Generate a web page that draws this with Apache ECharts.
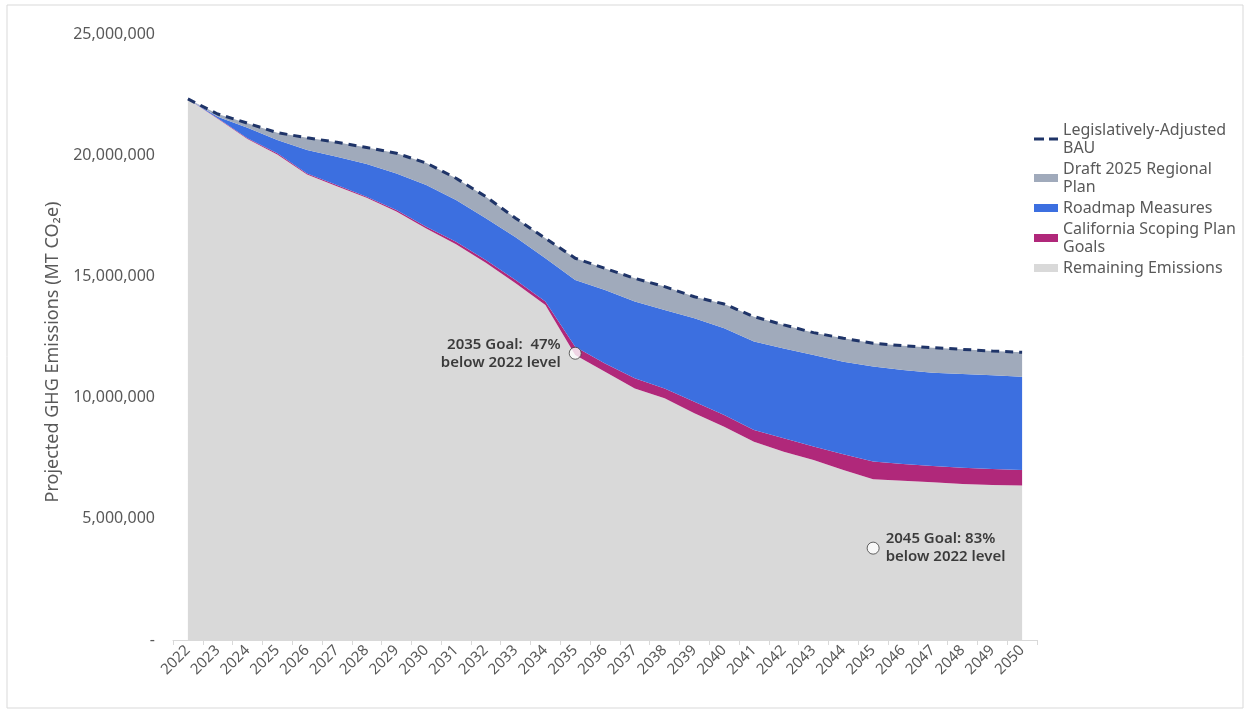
<!DOCTYPE html>
<html>
<head>
<meta charset="utf-8">
<script src="https://cdn.jsdelivr.net/npm/echarts@6/dist/echarts.min.js"></script>
<style>
  html, body { margin: 0; padding: 0; background: #fff; }
  #chart { width: 1250px; height: 715px; }
</style>
</head>
<body>
<div id="chart"></div>
<script>
// years on the x axis
var years = ['2022', '2023', '2024', '2025', '2026', '2027', '2028', '2029', '2030', '2031',
  '2032', '2033', '2034', '2035', '2036', '2037', '2038', '2039', '2040', '2041',
  '2042', '2043', '2044', '2045', '2046', '2047', '2048', '2049', '2050'];

// stacked pieces (MT CO2e), bottom to top
var remaining = [22320000, 21500000, 20670000, 20030000, 19200000, 18720000, 18240000, 17680000, 16980000, 16330000,
  15560000, 14720000, 13820000, 11760000, 11070000, 10380000, 9970000, 9350000, 8800000, 8180000,
  7770000, 7430000, 7010000, 6630000, 6570000, 6510000, 6440000, 6390000, 6370000];
var scopingPlan = [0, 20000, 30000, 50000, 50000, 50000, 50000, 60000, 70000, 100000,
  120000, 130000, 140000, 340000, 340000, 420000, 410000, 480000, 480000, 480000,
  550000, 550000, 650000, 730000, 690000, 670000, 670000, 660000, 640000];
var roadmap = [0, 70000, 430000, 550000, 960000, 1170000, 1350000, 1510000, 1720000, 1720000,
  1720000, 1770000, 1790000, 2750000, 3030000, 3160000, 3230000, 3440000, 3580000, 3650000,
  3710000, 3780000, 3820000, 3920000, 3880000, 3850000, 3860000, 3870000, 3850000];
var regionalPlan = [0, 110000, 190000, 300000, 510000, 590000, 680000, 830000, 910000, 900000,
  890000, 780000, 820000, 900000, 890000, 960000, 970000, 890000, 1000000, 1030000,
  970000, 920000, 970000, 960000, 1000000, 1030000, 1020000, 1000000, 1010000];
// dashed top line
var bau = [22320000, 21700000, 21320000, 20930000, 20720000, 20530000, 20320000, 20080000, 19680000, 19050000,
  18290000, 17400000, 16570000, 15750000, 15330000, 14920000, 14580000, 14160000, 13860000, 13340000,
  13000000, 12680000, 12450000, 12240000, 12140000, 12060000, 11990000, 11920000, 11870000];

// goal markers
var goal2035 = ['2035', 11830000];
var goal2045 = ['2045', 3790000];

var legendText = {
  'Legislatively-Adjusted BAU': 'Legislatively-Adjusted\nBAU',
  'Draft 2025 Regional Plan': 'Draft 2025 Regional\nPlan',
  'Roadmap Measures': 'Roadmap Measures',
  'California Scoping Plan Goals': 'California Scoping Plan\nGoals',
  'Remaining Emissions': 'Remaining Emissions'
};

var font = 'Noto Sans';
var grey = '#595959';

function areaSeries (name, data, color) {
  return {
    name: name,
    type: 'line',
    stack: 'total',
    data: data,
    symbol: 'none',
    smooth: false,
    lineStyle: { width: 0 },
    itemStyle: { color: color },
    areaStyle: { color: color, opacity: 1 },
    emphasis: { disabled: true }
  };
}

var chart = echarts.init(document.getElementById('chart'));
chart.setOption({
  animation: false,
  textStyle: { fontFamily: font },
  graphic: [{
    type: 'rect',
    shape: { x: 7, y: 5, width: 1236, height: 703 },
    style: { fill: 'none', stroke: '#d9d9d9', lineWidth: 1 },
    silent: true
  }],
  grid: { left: 173, right: 213, top: 34, bottom: 75 },
  legend: {
    orient: 'vertical',
    left: 1029,
    top: 116,
    itemWidth: 24,
    itemHeight: 8,
    itemGap: 3,
    formatter: function (name) { return legendText[name] || name; },
    textStyle: { color: grey, fontSize: 16, lineHeight: 18, fontFamily: font },
    data: [
      {
        name: 'Legislatively-Adjusted BAU',
        icon: 'path://M0,0h10v3h-10z M15,0h9v3h-9z',
        itemStyle: { color: '#1f3468' }
      },
      { name: 'Draft 2025 Regional Plan', icon: 'rect' },
      { name: 'Roadmap Measures', icon: 'rect' },
      { name: 'California Scoping Plan Goals', icon: 'rect' },
      { name: 'Remaining Emissions', icon: 'rect' }
    ]
  },
  xAxis: {
    type: 'category',
    data: years,
    boundaryGap: true,
    axisLine: { lineStyle: { color: '#d9d9d9', width: 1 } },
    axisTick: { show: true, interval: 0, length: 5, lineStyle: { color: '#d9d9d9' } },
    axisLabel: { interval: 0, rotate: 45, color: grey, fontSize: 15, margin: 8 }
  },
  yAxis: {
    type: 'value',
    min: 0,
    max: 25000000,
    interval: 5000000,
    name: 'Projected GHG Emissions (MT CO₂e)',
    nameLocation: 'middle',
    nameGap: 106,
    nameTextStyle: { color: grey, fontSize: 18, fontFamily: font, padding: [0, 30, 0, 0] },
    axisLine: { show: false },
    axisTick: { show: false },
    splitLine: { show: false },
    axisLabel: {
      color: grey,
      fontSize: 16,
      margin: 18,
      formatter: function (v) { return v === 0 ? '-' : v.toLocaleString('en-US'); }
    }
  },
  series: [
    areaSeries('Remaining Emissions', remaining, '#d9d9d9'),
    areaSeries('California Scoping Plan Goals', scopingPlan, '#b0287a'),
    areaSeries('Roadmap Measures', roadmap, '#3c6fe0'),
    areaSeries('Draft 2025 Regional Plan', regionalPlan, '#a0aabb'),
    {
      name: 'Legislatively-Adjusted BAU',
      type: 'line',
      data: bau,
      symbol: 'none',
      smooth: false,
      itemStyle: { color: '#1f3468' },
      lineStyle: { color: '#1f3468', width: 3, type: [8, 6] },
      emphasis: { disabled: true },
      z: 5
    },
    {
      name: 'goals',
      type: 'scatter',
      symbol: 'circle',
      symbolSize: 12,
      itemStyle: { color: '#fff', borderColor: '#404040', borderWidth: 1 },
      z: 6,
      data: [
        {
          value: goal2035,
          label: {
            show: true, position: 'left', distance: 8, align: 'right',
            color: '#111', fontSize: 15, fontWeight: 600, lineHeight: 18,
            formatter: '2035 Goal:  47%\nbelow 2022 level'
          }
        },
        {
          value: goal2045,
          label: {
            show: true, position: 'right', distance: 6, align: 'left',
            color: '#111', fontSize: 15, fontWeight: 600, lineHeight: 18,
            formatter: '2045 Goal: 83%\nbelow 2022 level'
          }
        }
      ]
    }
  ]
});
</script>
</body>
</html>
